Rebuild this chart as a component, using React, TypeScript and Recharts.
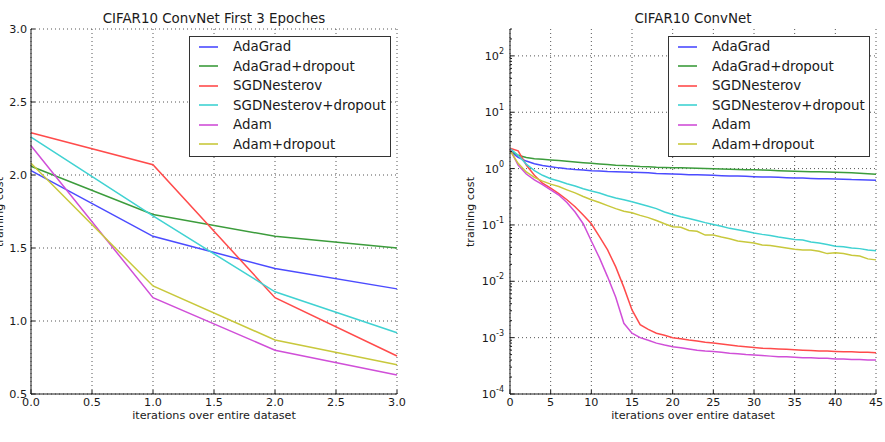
import React from 'react';
import { LineChart, Line, XAxis, YAxis, CartesianGrid, Legend } from 'recharts';

const FONT = '"DejaVu Sans", sans-serif';
const INK = '#1a1a1a';

const seriesNames = ['AdaGrad', 'AdaGrad+dropout', 'SGDNesterov', 'SGDNesterov+dropout', 'Adam', 'Adam+dropout'];
const seriesKeys = ['adagrad', 'adagradDrop', 'sgd', 'sgdDrop', 'adam', 'adamDrop'];
const seriesColors = ['#4b4bff', '#3c9c3c', '#ff4b4b', '#40d2d2', '#d04fd8', '#c8c83c'];

// left panel: first 3 epochs
const epochsShort = [0, 1, 2, 3];
const adagradShort = [2.03, 1.58, 1.36, 1.22];
const adagradDropShort = [2.06, 1.73, 1.58, 1.5];
const sgdShort = [2.29, 2.07, 1.16, 0.76];
const sgdDropShort = [2.26, 1.72, 1.2, 0.92];
const adamShort = [2.2, 1.16, 0.8, 0.63];
const adamDropShort = [2.08, 1.24, 0.87, 0.7];
const shortTicksX = [0, 0.5, 1, 1.5, 2, 2.5, 3];
const shortTicksY = [0.5, 1, 1.5, 2, 2.5, 3];

// right panel: 45 epochs, log scale
const epochsLong = [
  0, 1, 2, 3, 4, 5, 6, 7, 8, 9, 10, 11, 12, 13, 14, 15, 16, 17, 18, 19, 20, 21, 22,
  23, 24, 25, 26, 27, 28, 29, 30, 31, 32, 33, 34, 35, 36, 37, 38, 39, 40, 41, 42, 43, 44, 45,
];
const adagradLong = [
  2.03, 1.58, 1.36, 1.22, 1.13, 1.08, 1.03, 0.99, 0.96, 0.94, 0.92, 0.91, 0.89, 0.88, 0.87, 0.86,
  0.85, 0.84, 0.82, 0.81, 0.8, 0.79, 0.78, 0.78, 0.77, 0.76, 0.75, 0.74, 0.74, 0.73, 0.72, 0.71,
  0.71, 0.7, 0.69, 0.68, 0.68, 0.67, 0.66, 0.66, 0.655, 0.65, 0.64, 0.635, 0.63, 0.62,
];
const adagradDropLong = [
  2.06, 1.73, 1.58, 1.5, 1.46, 1.42, 1.39, 1.35, 1.31, 1.27, 1.24, 1.21, 1.18, 1.15, 1.13, 1.11,
  1.09, 1.08, 1.06, 1.05, 1.04, 1.03, 1.02, 1.01, 1.0, 0.99, 0.98, 0.97, 0.965, 0.955, 0.95, 0.94,
  0.93, 0.92, 0.91, 0.9, 0.89, 0.88, 0.875, 0.87, 0.86, 0.85, 0.84, 0.83, 0.81, 0.79,
];
const sgdLong = [
  2.29, 2.07, 1.16, 0.76, 0.55, 0.45, 0.36, 0.28, 0.21, 0.15, 0.105, 0.062, 0.036, 0.018, 0.0078,
  0.0031, 0.0017, 0.0014, 0.0012, 0.0011, 0.001, 0.00096, 0.00091, 0.00087, 0.00083, 0.0008,
  0.00077, 0.00074, 0.00071, 0.00069, 0.00067, 0.00065, 0.00064, 0.00063, 0.00062, 0.00061, 0.0006,
  0.00059, 0.00058, 0.00058, 0.00057, 0.00056, 0.00056, 0.00055, 0.00055, 0.00054,
];
const sgdDropLong = [
  2.26, 1.72, 1.2, 0.92, 0.76, 0.66, 0.6, 0.54, 0.49, 0.44, 0.4, 0.37, 0.33, 0.3, 0.28, 0.257,
  0.235, 0.215, 0.195, 0.17, 0.153, 0.14, 0.13, 0.12, 0.11, 0.102, 0.095, 0.087, 0.082, 0.077,
  0.072, 0.068, 0.065, 0.061, 0.058, 0.055, 0.054, 0.05, 0.048, 0.045, 0.042, 0.041, 0.039, 0.038,
  0.036, 0.035,
];
const adamLong = [
  2.2, 1.16, 0.8, 0.63, 0.52, 0.42, 0.34, 0.25, 0.17, 0.105, 0.052, 0.026, 0.012, 0.0052, 0.0018,
  0.0012, 0.001, 0.0009, 0.0008, 0.00074, 0.00069, 0.00066, 0.00063, 0.0006, 0.00058, 0.00057,
  0.00055, 0.00053, 0.00052, 0.0005, 0.00049, 0.00048, 0.00047, 0.00046, 0.00046, 0.00045, 0.00044,
  0.00044, 0.00043, 0.00043, 0.00042, 0.00042, 0.00041, 0.00041, 0.0004, 0.0004,
];
const adamDropLong = [
  2.08, 1.24, 0.87, 0.7, 0.6, 0.53, 0.48, 0.42, 0.37, 0.32, 0.28, 0.25, 0.22, 0.195, 0.175, 0.164,
  0.148, 0.135, 0.12, 0.105, 0.093, 0.091, 0.08, 0.077, 0.066, 0.066, 0.061, 0.057, 0.052, 0.05,
  0.048, 0.044, 0.043, 0.041, 0.039, 0.037, 0.036, 0.036, 0.034, 0.031, 0.032, 0.031, 0.029, 0.028,
  0.025, 0.024,
];
const longTicksX = [0, 5, 10, 15, 20, 25, 30, 35, 40, 45];
const longTicksY = [1e-4, 1e-3, 1e-2, 1e-1, 1, 10, 100];
const LOG_DOMAIN = [1e-4, 300];

// major + minor tick positions for the log axis (2..9 x 10^k)
const logAllTicks: number[] = [];
longTicksY.forEach((base) => {
  for (let m = 1; m <= 9; m++) {
    const v = m * base;
    if (v <= LOG_DOMAIN[1]) logAllTicks.push(v);
  }
});

function buildRows(epochs: number[], series: number[][]) {
  return epochs.map((epoch, i) => {
    const row: Record<string, number> = { epoch };
    seriesKeys.forEach((k, j) => {
      row[k] = series[j][i];
    });
    return row;
  });
}

const shortData = buildRows(epochsShort, [
  adagradShort, adagradDropShort, sgdShort, sgdDropShort, adamShort, adamDropShort,
]);
const longData = buildRows(epochsLong, [
  adagradLong, adagradDropLong, sgdLong, sgdDropLong, adamLong, adamDropLong,
]);

const tickStyle = { fontSize: 11.2, fill: INK, fontFamily: FONT };

const isMajor = (v: number) => Math.abs(Math.log10(v) - Math.round(Math.log10(v))) < 1e-6;

function LegendBox() {
  return (
    <div
      style={{
        width: 202,
        height: 121,
        boxSizing: 'border-box',
        border: '1px solid #333',
        background: '#fff',
        fontFamily: FONT,
        fontSize: 13.4,
        color: INK,
      }}
    >
      {seriesNames.map((name, i) => (
        <div key={name} style={{ height: 19.5, display: 'flex', alignItems: 'center' }}>
          <svg width={19} height={4} style={{ marginLeft: 9, display: 'block' }}>
            <line x1={0} x2={19} y1={2} y2={2} stroke={seriesColors[i]} strokeWidth={1.6} />
          </svg>
          <span style={{ marginLeft: 15, whiteSpace: 'nowrap' }}>{name}</span>
        </div>
      ))}
    </div>
  );
}

// left log axis: tick x is the plot edge (tickSize 0, tickMargin 0)
function LogTickLeft({ x, y, payload }: any) {
  const v = payload.value;
  const major = isMajor(v);
  const exp = Math.round(Math.log10(v));
  return (
    <g>
      <line x1={x} x2={x + (major ? 4 : 2)} y1={y} y2={y} stroke={INK} strokeWidth={1} />
      {major && (
        <text x={x - 6} y={y} textAnchor="end" fontSize={11.2} fill={INK} fontFamily={FONT}>
          <tspan dy="0.35em">10</tspan>
          <tspan dy={-6} fontSize={8}>{exp}</tspan>
        </text>
      )}
    </g>
  );
}

function LogTickRight({ x, y, payload }: any) {
  const major = isMajor(payload.value);
  return <line x1={x} x2={x - (major ? 4 : 2)} y1={y} y2={y} stroke={INK} strokeWidth={1} />;
}

function renderLines() {
  return seriesKeys.map((k, i) => (
    <Line
      key={k}
      type="linear"
      dataKey={k}
      stroke={seriesColors[i]}
      strokeWidth={1.5}
      dot={false}
      isAnimationActive={false}
    />
  ));
}

function hiddenAnchorLine() {
  return (
    <Line
      xAxisId="top"
      yAxisId="right"
      dataKey="adagrad"
      stroke="none"
      dot={false}
      legendType="none"
      isAnimationActive={false}
    />
  );
}

function legendAt(left: number) {
  return (
    <Legend
      layout="vertical"
      align="center"
      verticalAlign="middle"
      content={() => <LegendBox />}
      wrapperStyle={{ position: 'absolute', left, top: 36, width: 202, height: 121 }}
    />
  );
}

const textBase: React.CSSProperties = {
  position: 'absolute',
  fontFamily: FONT,
  color: INK,
  textAlign: 'center',
  whiteSpace: 'nowrap',
};

export default function App() {
  return (
    <div style={{ position: 'absolute', left: 0, top: 0, width: 885, height: 442, background: '#fff' }}>
      <div style={{ ...textBase, left: 31, top: 11, width: 366, fontSize: 13.4, lineHeight: '16px' }}>
        CIFAR10 ConvNet First 3 Epoches
      </div>
      <div style={{ ...textBase, left: 510, top: 11, width: 366, fontSize: 13.4, lineHeight: '16px' }}>
        CIFAR10 ConvNet
      </div>

      <div style={{ position: 'absolute', left: 0, top: 0 }}>
        <LineChart width={420} height={442} data={shortData} margin={{ top: 29, right: 23, bottom: 18, left: 3 }}>
          <CartesianGrid stroke="#555" strokeDasharray="1 3" />
          <XAxis
            type="number"
            dataKey="epoch"
            domain={[0, 3]}
            ticks={shortTicksX}
            interval={0}
            height={30}
            tickFormatter={(v: number) => v.toFixed(1)}
            tick={tickStyle}
            tickSize={-4}
            tickMargin={8}
            stroke={INK}
          />
          <YAxis
            type="number"
            domain={[0.5, 3]}
            ticks={shortTicksY}
            interval={0}
            width={28}
            tickFormatter={(v: number) => v.toFixed(1)}
            tick={tickStyle}
            tickSize={-4}
            tickMargin={8}
            stroke={INK}
          />
          <XAxis
            xAxisId="top"
            orientation="top"
            type="number"
            dataKey="epoch"
            domain={[0, 3]}
            ticks={shortTicksX}
            interval={0}
            height={0}
            tick={false}
            tickSize={-4}
            stroke={INK}
          />
          <YAxis
            yAxisId="right"
            orientation="right"
            type="number"
            domain={[0.5, 3]}
            ticks={shortTicksY}
            interval={0}
            width={0}
            tick={false}
            tickSize={-4}
            stroke={INK}
          />
          {hiddenAnchorLine()}
          {renderLines()}
          {legendAt(189)}
        </LineChart>
      </div>

      <div style={{ position: 'absolute', left: 440, top: 0 }}>
        <LineChart width={445} height={442} data={longData} margin={{ top: 29, right: 9, bottom: 18, left: 40 }}>
          <CartesianGrid stroke="#555" strokeDasharray="1 3" horizontalValues={longTicksY} />
          <XAxis
            type="number"
            dataKey="epoch"
            domain={[0, 45]}
            ticks={longTicksX}
            interval={0}
            height={30}
            tick={tickStyle}
            tickSize={-4}
            tickMargin={8}
            stroke={INK}
          />
          <YAxis
            type="number"
            scale="log"
            domain={LOG_DOMAIN}
            allowDataOverflow
            ticks={logAllTicks}
            interval={0}
            width={30}
            tick={<LogTickLeft />}
            tickLine={false}
            tickSize={0}
            tickMargin={0}
            stroke={INK}
          />
          <XAxis
            xAxisId="top"
            orientation="top"
            type="number"
            dataKey="epoch"
            domain={[0, 45]}
            ticks={longTicksX}
            interval={0}
            height={0}
            tick={false}
            tickSize={-4}
            stroke={INK}
          />
          <YAxis
            yAxisId="right"
            orientation="right"
            type="number"
            scale="log"
            domain={LOG_DOMAIN}
            allowDataOverflow
            ticks={logAllTicks}
            interval={0}
            width={0}
            tick={<LogTickRight />}
            tickLine={false}
            tickSize={0}
            tickMargin={0}
            stroke={INK}
          />
          {hiddenAnchorLine()}
          {renderLines()}
          {legendAt(228)}
        </LineChart>
      </div>

      <div style={{ ...textBase, left: 31, top: 408, width: 366, fontSize: 11.2, lineHeight: '16px' }}>
        iterations over entire dataset
      </div>
      <div style={{ ...textBase, left: 510, top: 408, width: 366, fontSize: 11.2, lineHeight: '16px' }}>
        iterations over entire dataset
      </div>
      <div
        style={{
          ...textBase,
          left: -100,
          top: 205,
          width: 200,
          fontSize: 11.2,
          lineHeight: '14px',
          transform: 'rotate(-90deg)',
        }}
      >
        training cost
      </div>
      <div
        style={{
          ...textBase,
          left: 370.5,
          top: 205,
          width: 200,
          fontSize: 11.2,
          lineHeight: '14px',
          transform: 'rotate(-90deg)',
        }}
      >
        training cost
      </div>
    </div>
  );
}
